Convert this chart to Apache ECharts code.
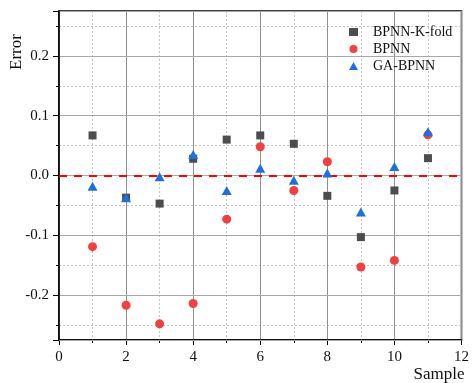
<!DOCTYPE html>
<html><head><meta charset="utf-8">
<script src="https://cdn.jsdelivr.net/npm/echarts@6/dist/echarts.min.js"></script>
<style>html,body{margin:0;padding:0;background:#fff}#c{width:472px;height:383px}</style>
</head><body><div id="c"></div>
<script>
// ---- data ----
const samples = [1, 2, 3, 4, 5, 6, 7, 8, 9, 10, 11];
const kfold  = [0.067, -0.037, -0.047, 0.028, 0.060, 0.067, 0.053, -0.034, -0.103, -0.025, 0.029];
const bpnn   = [-0.119, -0.217, -0.248, -0.214, -0.073, 0.048, -0.025, 0.023, -0.153, -0.142, 0.068];
const gabpnn = [-0.018, -0.037, -0.002, 0.035, -0.025, 0.012, -0.008, 0.004, -0.061, 0.015, 0.073];
const seriesNames = ['BPNN-K-fold', 'BPNN', 'GA-BPNN'];
const xMin = 0, xMax = 12, xStep = 2;
const yMin = -0.275, yMax = 0.275, yMajor = 0.1, yMinor = 0.05;
const xName = 'Sample', yName = 'Error';

const FONT = '"Liberation Serif", "Times New Roman", serif';
const pairs = arr => samples.map((s, i) => [s, arr[i]]);

const chart = echarts.init(document.getElementById('c'), null, {renderer: 'canvas'});
chart.setOption({
  animation: false,
  backgroundColor: '#fff',
  grid: {left: 59, top: 11, right: 4, bottom: 42, show: true, borderColor: '#000', borderWidth: 1.5, backgroundColor: '#fff'},
  xAxis: {
    type: 'value', min: xMin, max: xMax, interval: xStep,
    name: xName, nameLocation: 'end', nameGap: 3,
    nameTextStyle: {fontFamily: FONT, fontSize: 17, color: '#111', align: 'right', verticalAlign: 'top', padding: [26, 0, 0, 0]},
    axisLine: {onZero: false, lineStyle: {color: '#000', width: 1.5}},
    axisTick: {show: true, length: 5, lineStyle: {color: '#000', width: 1}},
    minorTick: {show: true, splitNumber: 2, length: 3, lineStyle: {color: '#000', width: 1}},
    axisLabel: {fontFamily: FONT, fontSize: 15, color: '#111', margin: 10},
    splitLine: {show: true, lineStyle: {color: '#8f8f8f', width: 1}},
    minorSplitLine: {show: true, lineStyle: {color: '#c4c4c4', width: 1, type: [2, 2]}}
  },
  yAxis: [{
    type: 'value', min: yMin, max: yMax, minInterval: yMajor, maxInterval: yMajor, splitNumber: 5,
    position: 'left', z: 1,
    axisLine: {show: true, onZero: false, lineStyle: {color: '#000', width: 1.5}},
    axisTick: {show: true, length: 6, lineStyle: {color: '#000', width: 1}},
    axisLabel: {fontFamily: FONT, fontSize: 15, color: '#111', margin: 10,
      formatter: v => (Math.abs(v * 10 - Math.round(v * 10)) < 1e-6 ? v.toFixed(1) : '')},
    splitLine: {show: true, lineStyle: {color: '#a8a8a8', width: 1}}
  }, {
    type: 'value', min: yMin, max: yMax, minInterval: yMinor, maxInterval: yMinor, splitNumber: 11,
    position: 'left', z: 0,
    axisLine: {show: false, onZero: false},
    axisTick: {show: true, length: 3, lineStyle: {color: '#000', width: 1}},
    axisLabel: {show: false},
    splitLine: {show: true, lineStyle: {color: '#c4c4c4', width: 1, type: [2, 2]}}
  }],
  legend: {
    orient: 'vertical', left: 344, top: 20, itemWidth: 9, itemHeight: 8, itemGap: 3,
    data: seriesNames,
    textStyle: {fontFamily: FONT, fontSize: 14, color: '#111', padding: [0, 0, 0, 10]}
  },
  graphic: [{
    type: 'text', x: 17, y: 52, rotation: Math.PI / 2,
    style: {text: yName, font: '17px ' + FONT, fill: '#111', align: 'center', verticalAlign: 'middle', textAlign: 'center', textVerticalAlign: 'middle'}
  }],
  series: [
    {type: 'line', name: 'zero', data: [], z: 1, silent: true,
     markLine: {silent: true, symbol: 'none', label: {show: false},
       lineStyle: {color: '#ff0000', width: 2, type: [8, 7]}, data: [{yAxis: 0}]}},
    {type: 'scatter', name: seriesNames[0], data: pairs(kfold), symbol: 'rect', symbolSize: 8,
     itemStyle: {color: '#4d4d4d', opacity: 1}, z: 3},
    {type: 'scatter', name: seriesNames[1], data: pairs(bpnn), symbol: 'circle', symbolSize: 9,
     itemStyle: {color: '#f04040', opacity: 1}, z: 4},
    {type: 'scatter', name: seriesNames[2], data: pairs(gabpnn), symbol: 'triangle', symbolSize: [10, 9],
     itemStyle: {color: '#1f6fdf', opacity: 1}, z: 5}
  ]
});
</script></body></html>
